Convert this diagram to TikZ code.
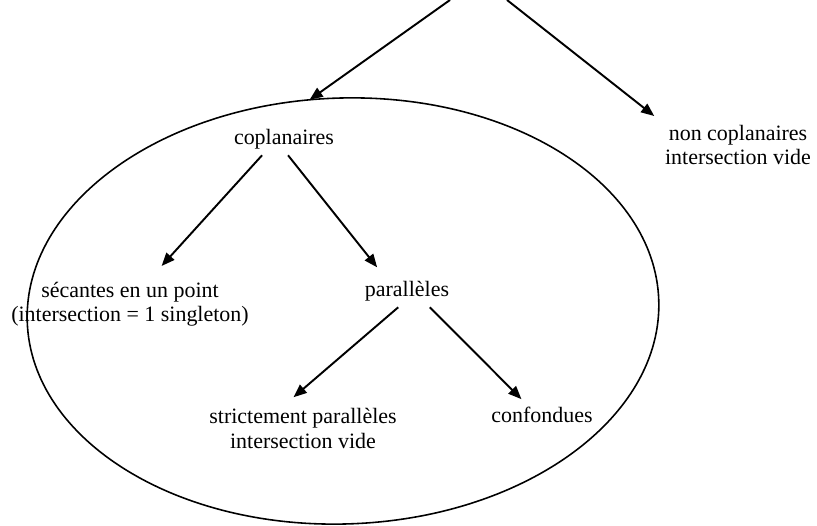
\documentclass[tikz,border=0pt]{standalone}
\usepackage{fontspec}
\setmainfont{Liberation Serif}
\usetikzlibrary{arrows.meta,shapes.geometric}

\begin{document}
\begin{tikzpicture}[x=0.02cm, y=-0.02cm,
        fleche/.style={line width=1.1pt, -{Triangle[length=7.5pt,width=6pt]}},
        cas/.style={align=center, anchor=base, inner sep=3pt, font=\fontsize{12.5}{14}\selectfont}]
            \useasboundingbox (0, 0) rectangle (817, 526);
            \node[draw, line width=0.9pt, ellipse, inner sep=0pt, outer sep=0pt,
                minimum width=12.64cm, minimum height=8.52cm, rotate=2] (plan) at (343, 311) {};
            \coordinate (haut1) at (450, 0);
            \coordinate (haut2) at (507, 0);
            \node[cas] (copl) at (284, 145) {coplanaires};
            \node[cas] (noncopl) at (738, 165) {non coplanaires\\intersection vide};
            \node[cas] (sec) at (130, 322) {sécantes en un point\\(intersection = 1 singleton)};
            \node[cas] (para) at (407, 297) {parallèles};
            \node[cas] (strict) at (303, 448) {strictement parallèles\\intersection vide};
            \node[cas] (conf) at (542, 422) {confondues};
            \draw[fleche] (haut1)--(plan.97);
            \draw[fleche] (haut2)--([shift={(-3pt, 2pt)}]noncopl.north west);
            \draw[fleche] ([xshift=-12.5pt]copl.south)--([shift={(18pt, 6pt)}]sec.north);
            \draw[fleche] ([xshift=2.3pt]copl.south)--([shift={(-17pt, 5pt)}]para.north);
            \draw[fleche] ([xshift=-5pt]para.south)--([shift={(-5.4pt, 3pt)}]strict.north);
            \draw[fleche] ([xshift=13pt]para.south)--([shift={(-11.7pt, 1pt)}]conf.north);
        \end{tikzpicture}
\end{document}
